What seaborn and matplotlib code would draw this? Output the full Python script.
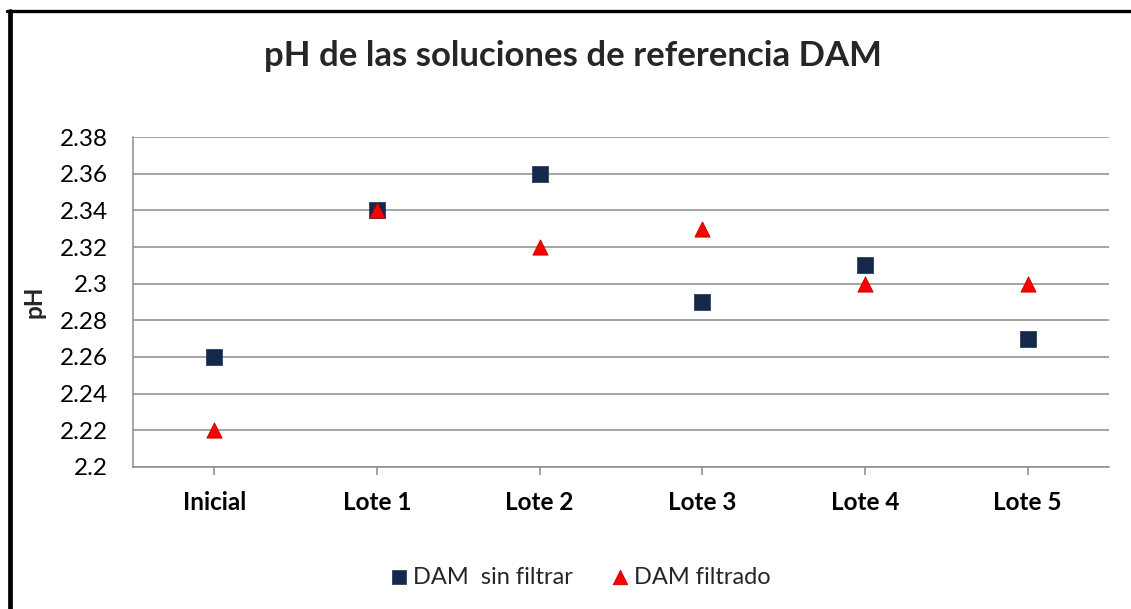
import pandas as pd
import seaborn as sns
import matplotlib.pyplot as plt
import matplotlib.ticker as mticker
from matplotlib.lines import Line2D

# Data
lotes = ['Inicial', 'Lote 1', 'Lote 2', 'Lote 3', 'Lote 4', 'Lote 5']
sin_filtrar = [2.26, 2.34, 2.36, 2.29, 2.31, 2.27]
filtrado = [2.22, 2.34, 2.32, 2.33, 2.30, 2.30]
series = ['DAM  sin filtrar', 'DAM filtrado']
y_ticks = [2.2, 2.22, 2.24, 2.26, 2.28, 2.3, 2.32, 2.34, 2.36, 2.38]

df = pd.DataFrame({
    'lote': lotes * 2,
    'ph': sin_filtrar + filtrado,
    'serie': [series[0]] * len(lotes) + [series[1]] * len(lotes),
})

sns.set_style('white')
plt.rcParams['font.family'] = ['Lato', 'DejaVu Sans']

fig = plt.figure(figsize=(11.31, 6.09), dpi=100)
ax = fig.add_axes([0.1176, 0.2332, 0.8629, 0.5418])

palette = {series[0]: '#13284b', series[1]: '#ff0000'}
markers = {series[0]: 's', series[1]: '^'}
edges = {series[0]: '#2a3f63', series[1]: '#c00000'}

for s in series:
    sub = df[df['serie'] == s]
    sns.scatterplot(data=sub, x='lote', y='ph', ax=ax, color=palette[s],
                    marker=markers[s], s=120, edgecolor=edges[s],
                    linewidth=0.6, label=s, zorder=3)

ax.set_xlim(-0.5, len(lotes) - 0.5)
ax.set_ylim(2.2, 2.38)
ax.set_yticks(y_ticks)
ax.yaxis.set_major_formatter(mticker.FuncFormatter(lambda v, p: f'{v:g}'))
ax.grid(axis='y', color='#8c8c8c', linewidth=1.1)
ax.grid(axis='x', visible=False)
ax.set_axisbelow(True)

for side in ['top', 'right']:
    ax.spines[side].set_visible(False)
for side in ['left', 'bottom']:
    ax.spines[side].set_color('#8c8c8c')
    ax.spines[side].set_linewidth(1.1)

ax.tick_params(axis='y', length=0, pad=18, labelsize=17.5, labelcolor='black')
ax.tick_params(axis='x', length=6, width=1.1, color='#8c8c8c', pad=11,
               labelsize=17.5, labelcolor='black', direction='out', bottom=True)
for lab in ax.get_xticklabels():
    lab.set_fontweight('bold')

ax.set_xlabel('')
ax.set_ylabel('pH', fontsize=17.5, fontweight='bold', labelpad=10)

fig.suptitle('pH de las soluciones de referencia DAM', x=0.507, y=0.935,
             fontsize=25, fontweight='bold')

ax.legend(loc='center', bbox_to_anchor=(0.511, 0.0525), bbox_transform=fig.transFigure,
          ncol=2, frameon=False, fontsize=17, handletextpad=0.0,
          columnspacing=1.4, markerscale=0.95, handlelength=1.2)

# frame around the chart (only left and top show in the picture)
fig.add_artist(Line2D([0.0088, 0.0088], [0.0, 0.9812], transform=fig.transFigure,
                      color='black', linewidth=3.4))
fig.add_artist(Line2D([0.0065, 1.0], [0.9812, 0.9812], transform=fig.transFigure,
                      color='black', linewidth=2.4))

fig.savefig('out.png', dpi=100)
